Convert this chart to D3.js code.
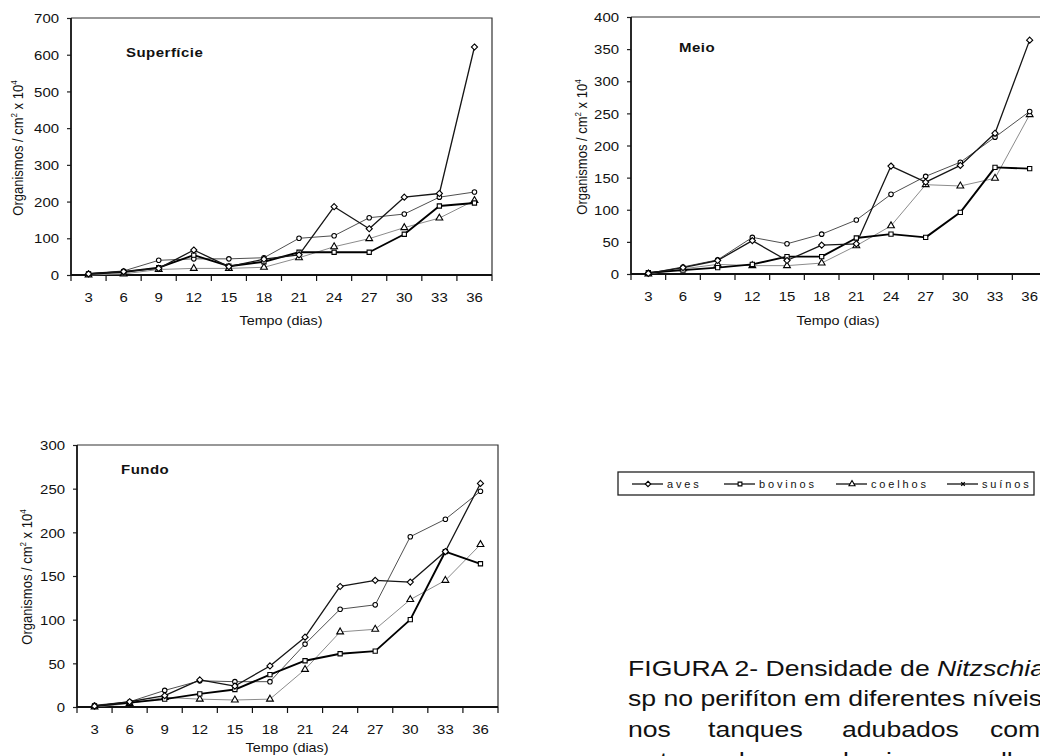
<!DOCTYPE html>
<html><head><meta charset="utf-8">
<script src="https://cdn.jsdelivr.net/npm/d3@7"></script>
<style>
body{margin:0;background:#fff}
svg{display:block}
text{font-family:"Liberation Sans",Arial,Helvetica,sans-serif;fill:#111}
</style>
</head><body>
<svg id="c" width="1040" height="756"></svg>
<script>
// ---------- data ----------
const days = ["3","6","9","12","15","18","21","24","27","30","33","36"];
const seriesNames = ["aves","bovinos","coelhos","suínos"];

const supAves    = [3, 9, 18, 68, 23, 43, 55, 186, 126, 212, 222, 621];
const supBovinos = [3, 8, 20, 54, 24, 36, 62, 62, 62, 111, 188, 196];
const supCoelhos = [0, 3, 15, 18, 18, 21, 47, 77, 99, 129, 155, 203];
const supSuinos  = [4, 11, 40, 44, 44, 47, 100, 107, 156, 166, 212, 226];

const meioAves    = [1, 10, 21, 52, 21, 45, 47, 168, 143, 169, 219, 364];
const meioBovinos = [2, 6, 10, 15, 27, 27, 56, 62, 57, 96, 166, 164];
const meioCoelhos = [0, 8, 15, 13, 13, 17, 44, 75, 139, 137, 149, 248];
const meioSuinos  = [1, 11, 22, 57, 47, 62, 84, 124, 152, 174, 213, 253];

const fundoAves    = [1, 6, 13, 31, 24, 47, 80, 138, 145, 143, 178, 256];
const fundoBovinos = [1, 5, 9, 15, 20, 37, 53, 61, 64, 100, 178, 164];
const fundoCoelhos = [0, 4, 11, 9, 8, 9, 43, 86, 89, 123, 145, 186];
const fundoSuinos  = [2, 6, 19, 30, 29, 29, 72, 112, 117, 195, 215, 247];

const supTicks   = [0,100,200,300,400,500,600,700];
const meioTicks  = [0,50,100,150,200,250,300,350,400];
const fundoTicks = [0,50,100,150,200,250,300];

const xTitle = "Tempo (dias)";
const captionLines = ["FIGURA 2- Densidade de ", "sp no perifíton em diferentes níveis"];
const captionItalic = "Nitzschia";
const captionJustified = ["nos","tanques","adubados","com"];
const captionLast = ["esterco","de","aves,","bovinos,","coelhos"];

// ---------- styles ----------
const diamond = d3.symbolDiamond2 || d3.symbolDiamond;
const style = {
  "aves":    {stroke:"#151515", width:1.3, sym:diamond,            size:24},
  "bovinos": {stroke:"#000",    width:1.9, sym:d3.symbolSquare,   size:18},
  "coelhos": {stroke:"#8c8c8c", width:1.0, sym:d3.symbolTriangle, size:20},
  "suínos":  {stroke:"#505050", width:1.0, sym:d3.symbolCircle,   size:16}
};
const drawOrder = ["coelhos","suínos","bovinos","aves"];

const svg = d3.select("#c");
const S = 1.15; // horizontal stretch of scanned text

function stext(g, x, y, str, opts={}) {
  const t = g.append("text")
    .attr("transform", `translate(${x},${y}) scale(${opts.s||S},1)`)
    .attr("text-anchor", opts.anchor||"start")
    .style("font-size", (opts.size||12.5)+"px")
    .style("font-weight", opts.bold?"bold":"normal");
  if (opts.ls) t.style("letter-spacing", opts.ls+"px");
  t.text(str);
  return t;
}

const panels = [
  {title:"Superfície", data:{"aves":supAves,"bovinos":supBovinos,"coelhos":supCoelhos,"suínos":supSuinos},
   ticks:supTicks, left:71, right:492, top:18, bottom:275,
   titleX:126, titleY:57, yTitleX:23, yTitleY:148, xTitleX:281, xTitleY:325},
  {title:"Meio", data:{"aves":meioAves,"bovinos":meioBovinos,"coelhos":meioCoelhos,"suínos":meioSuinos},
   ticks:meioTicks, left:631, right:1047, top:17, bottom:274,
   titleX:679, titleY:52, yTitleX:587, yTitleY:147, xTitleX:838, xTitleY:325},
  {title:"Fundo", data:{"aves":fundoAves,"bovinos":fundoBovinos,"coelhos":fundoCoelhos,"suínos":fundoSuinos},
   ticks:fundoTicks, left:77, right:498, top:445, bottom:707,
   titleX:121, titleY:474, yTitleX:32, yTitleY:577, xTitleX:287, xTitleY:752}
];

panels.forEach(p => {
  const g = svg.append("g");
  const x = d3.scaleBand().domain(days).range([p.left, p.right]).padding(0);
  const y = d3.scaleLinear().domain([0, d3.max(p.ticks)]).range([p.bottom, p.top]);

  g.append("path")
    .attr("d", `M${p.left},${y(d3.max(p.ticks))}H${x.range()[1]}V${y(0)}`)
    .attr("fill","none").attr("stroke","#333").attr("stroke-width",1.2);

  const ya = g.append("g").attr("transform",`translate(${p.left},0)`)
    .call(d3.axisLeft(y).tickValues(p.ticks).tickSize(4).tickPadding(0));
  ya.select(".domain").remove();
  ya.selectAll(".tick line").attr("stroke","#222").attr("stroke-width",1.2);
  ya.selectAll(".tick text")
    .attr("x", -12/S).attr("dy","0.36em")
    .attr("transform",`scale(${S},1)`)
    .style("font-size","13px").attr("fill","#111");
  g.append("line").attr("x1",p.left).attr("x2",p.left)
    .attr("y1",y(d3.max(p.ticks))).attr("y2",y(0))
    .attr("stroke","#111").attr("stroke-width",1.8);

  const xa = g.append("g").attr("transform",`translate(0,${p.bottom})`)
    .call(d3.axisBottom(x).tickSize(0).tickPadding(0));
  xa.select(".domain").remove();
  xa.selectAll(".tick text")
    .attr("y", 27).attr("dy", 0)
    .attr("transform",`scale(${S},1)`)
    .style("font-size","13px").attr("fill","#111");
  const edges = days.map(d => x(d)).concat([x.range()[1]]);
  g.selectAll(".edge").data(edges).join("line")
    .attr("x1",d=>d).attr("x2",d=>d).attr("y1",p.bottom).attr("y2",p.bottom+6)
    .attr("stroke","#111").attr("stroke-width",1.2);
  g.append("line").attr("x1",p.left).attr("x2",x.range()[1])
    .attr("y1",p.bottom).attr("y2",p.bottom)
    .attr("stroke","#111").attr("stroke-width",1.8);

  stext(g, p.titleX, p.titleY, p.title, {bold:true, size:12.5, s:1.2, ls:0.4});
  stext(g, p.xTitleX, p.xTitleY, xTitle, {anchor:"middle", size:12.5});
  const yt = g.append("text")
    .attr("transform",`translate(${p.yTitleX},${p.yTitleY}) rotate(-90) scale(1,1.12)`)
    .attr("text-anchor","middle").style("font-size","13px");
  yt.append("tspan").text("Organismos / cm");
  yt.append("tspan").attr("dy",-5).style("font-size","8px").text("2");
  yt.append("tspan").attr("dy",5).text(" x 10");
  yt.append("tspan").attr("dy",-5).style("font-size","8px").text("4");

  const line = d3.line().x((d,i)=>x(days[i])+x.bandwidth()/2).y(d=>y(d));
  drawOrder.forEach(name => {
    const st = style[name];
    g.append("path").datum(p.data[name]).attr("d", line)
      .attr("fill","none").attr("stroke",st.stroke).attr("stroke-width",st.width)
      .attr("stroke-linejoin","round");
  });
  drawOrder.forEach(name => {
    const st = style[name];
    g.selectAll(null).data(p.data[name]).join("path")
      .attr("transform",(d,i)=>`translate(${x(days[i])+x.bandwidth()/2},${y(d)})`)
      .attr("d", d3.symbol().type(st.sym).size(st.size)())
      .attr("fill","#fff").attr("stroke","#000").attr("stroke-width",1.1);
  });
});

// ---------- legend ----------
const lg = svg.append("g");
lg.append("rect").attr("x",618).attr("y",472).attr("width",416).attr("height",23)
  .attr("fill","#fff").attr("stroke","#222").attr("stroke-width",1.3);
const legPos = {"aves":632,"bovinos":724,"coelhos":836,"suínos":947};
seriesNames.forEach(name => {
  const st = style[name];
  const item = lg.append("g").attr("transform",`translate(${legPos[name]},484)`);
  item.append("line").attr("x1",0).attr("x2",31).attr("y1",0).attr("y2",0)
    .attr("stroke","#000").attr("stroke-width",1.2);
  if (name === "suínos") {
    item.append("path").attr("transform","translate(16,0)")
      .attr("d", d3.symbol().type(d3.symbolX).size(10)())
      .attr("stroke","#000").attr("stroke-width",1.2).attr("fill","none");
  } else {
    item.append("path").attr("transform","translate(16,0)")
      .attr("d", d3.symbol().type(st.sym).size(st.size*0.8)())
      .attr("fill","#fff").attr("stroke","#000").attr("stroke-width",1.1);
  }
  stext(item, 35, 4, name, {size:10, s:1.1, ls:2.6});
});

// ---------- caption ----------
const cap = svg.append("g");
const c1 = cap.append("text").attr("transform","translate(628,676) scale(1.21,1)")
  .style("font-size","22px");
c1.append("tspan").text(captionLines[0]);
c1.append("tspan").style("font-style","italic").text(captionItalic);
cap.append("text").attr("transform","translate(628,706) scale(1.21,1)")
  .style("font-size","22px").text(captionLines[1]);
const justPos = {"nos":628,"tanques":708,"adubados":842,"com":990};
captionJustified.forEach(w => {
  cap.append("text").attr("transform",`translate(${justPos[w]},737) scale(1.21,1)`)
    .style("font-size","22px").text(w);
});
const lastPos = {"esterco":632,"de":730,"aves,":760,"bovinos,":843,"coelhos":958};
captionLast.forEach(w => {
  cap.append("text").attr("transform",`translate(${lastPos[w]},768) scale(1.21,1)`)
    .style("font-size","22px").text(w);
});
</script>
</body></html>
